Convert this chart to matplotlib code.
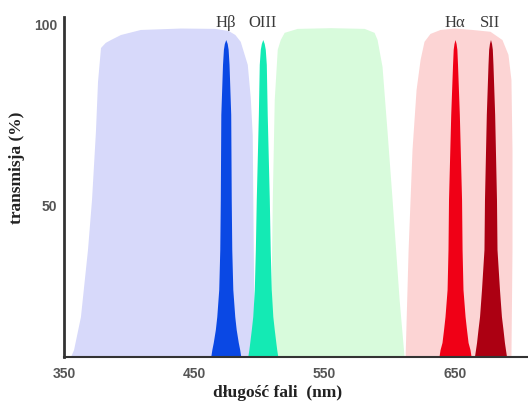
import numpy as np
import matplotlib
matplotlib.use("Agg")
import matplotlib.pyplot as plt

# szerokie pasma filtrów (nm, %)
blue_x = [355.4, 357.7, 363.0, 368.4, 371.5, 374.5, 376.1, 378.4, 382.0, 386.0, 393.7, 409.0, 440.0,
          466.0, 476.4, 481.5, 485.6, 491.0, 493.3, 494.8, 495.6, 496.4]
blue_y = [7.8, 9.7, 18.9, 37.5, 51.4, 70.3, 84.2, 93.6, 95.0, 95.8, 97.2, 98.6, 99.0,
          98.9, 98.3, 97.2, 95.3, 88.9, 79.7, 69.4, 37.5, 7.8]

green_x = [508.6, 510.2, 511.7, 514.0, 516.3, 519.3, 529.3, 555.0, 580.7, 588.3, 590.6, 594.4,
           598.3, 602.1, 607.5, 611.3]
green_y = [7.8, 51.4, 79.2, 93.1, 95.8, 97.8, 98.9, 99.1, 98.9, 97.8, 95.8, 88.3,
           70.0, 51.4, 23.6, 7.8]

pink_x = [612.1, 614.4, 617.4, 620.5, 623.6, 626.6, 631.2, 638.9, 650.0, 663.4, 677.2, 686.4,
          691.0, 693.3, 694.1, 694.1, 693.3]
pink_y = [7.8, 37.5, 65.3, 81.9, 90.3, 95.3, 97.5, 98.6, 99.0, 98.6, 98.1, 95.8,
          91.7, 84.7, 65.3, 37.5, 7.8]

# wąskie linie emisyjne: środek, poziomy transmisji i połówkowe szerokości (nm)
lines = ["Hβ", "OIII", "Hα", "SII"]
line_center = [474.5, 502.9, 650.4, 677.6]
levels = [7.8, 9.7, 11.7, 15.3, 18.9, 26.4, 37.5, 51.4, 75.0, 88.9, 93.1, 94.7, 95.8]
hb_hw = [11.5, 10.7, 9.6, 8.0, 6.9, 5.4, 4.6, 4.2, 3.8, 2.5, 1.8, 1.1, 0.0]
oiii_hw = [11.5, 10.7, 10.0, 8.8, 7.7, 6.5, 5.7, 5.0, 3.4, 2.7, 1.9, 1.1, 0.0]
ha_hw = [12.3, 11.5, 10.0, 8.8, 7.7, 6.1, 5.4, 5.0, 3.3, 1.9, 1.4, 0.8, 0.0]
sii_hw = [12.3, 11.5, 10.7, 9.6, 8.4, 6.9, 5.0, 4.6, 3.2, 1.9, 1.4, 0.8, 0.0]
line_hw = [hb_hw, oiii_hw, ha_hw, sii_hw]

x_ticks = [350, 450, 550, 650]
y_ticks = [50, 100]

band_colors = ["#d7d9fa", "#d8fbdc", "#fcd4d4"]
line_colors = ["#0a48e4", "#14eab4", "#f00016", "#ac0012"]

fig = plt.figure(figsize=(5.28, 4.05), dpi=100)
ax = fig.add_axes([64 / 528, 48 / 405, 1 - 64 / 528, 340 / 405])

for bx, by, c in zip([blue_x, green_x, pink_x], [blue_y, green_y, pink_y], band_colors):
    ax.fill(np.r_[bx[0], bx, bx[-1]], np.r_[0, by, 0], color=c, lw=0)

for name, c0, hw, col in zip(lines, line_center, line_hw, line_colors):
    hw = np.array(hw)
    lv = np.array(levels)
    xs = np.r_[c0 - hw[0], c0 - hw, (c0 + hw)[::-1], c0 + hw[0]]
    ys = np.r_[0, lv, lv[::-1], 0]
    ax.fill(xs, ys, color=col, lw=0)
    ax.text(c0 - 0.5, 100.6, name, ha="center", va="center", fontsize=12,
            family="Liberation Serif", color="#3a3a3a", clip_on=False)

ax.set_xlim(350, 706)
ax.set_ylim(7.8, 102.2)
ax.set_xticks(x_ticks)
ax.set_yticks(y_ticks)
ax.set_xticklabels([str(t) for t in x_ticks], family="Liberation Sans", fontsize=10,
                   fontweight="bold", color="#555555")
ax.set_yticklabels([str(t) for t in y_ticks], family="Liberation Sans", fontsize=10,
                   fontweight="bold", color="#555555")
ax.tick_params(axis="x", length=0, pad=7)
ax.tick_params(axis="y", length=0, pad=5)
ax.spines["top"].set_visible(False)
ax.spines["right"].set_visible(False)
ax.spines["left"].set_linewidth(2.0)
ax.spines["left"].set_color("#333333")
ax.spines["bottom"].set_linewidth(1.5)
ax.spines["bottom"].set_color("#333333")

fig.text(278 / 528, 1 - 393 / 405, "długość fali  (nm)", ha="center", va="center",
         family="Liberation Serif", fontweight="bold", fontsize=12.5, color="#222222")
fig.text(17 / 528, 1 - 168 / 405, "transmisja (%)", ha="center", va="center", rotation=90,
         family="Liberation Serif", fontweight="bold", fontsize=12.5, color="#222222")

fig.savefig("out.png", dpi=100)
